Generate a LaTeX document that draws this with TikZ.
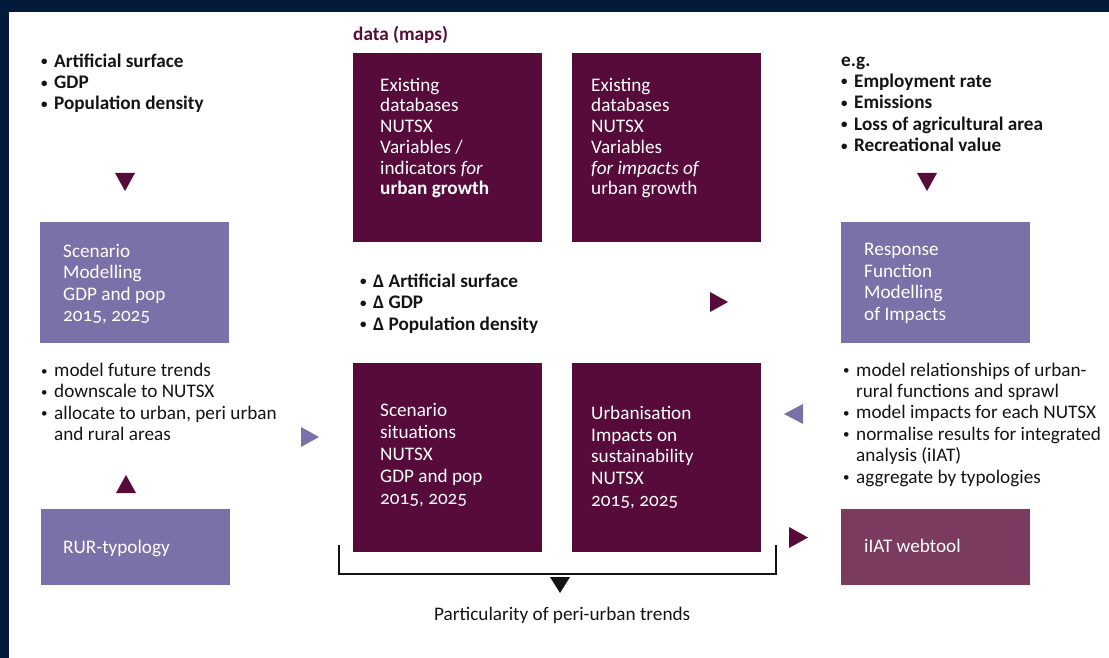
\documentclass[tikz,border=0pt]{standalone}
\usepackage{fontspec}
\setmainfont{Carlito}[Numbers=OldStyle]
\usepackage{tikz}
\usetikzlibrary{positioning}
\definecolor{wine}{HTML}{570B3B}
\definecolor{lavender}{HTML}{7B71A9}
\definecolor{rosewine}{HTML}{7A3B5E}
\definecolor{navy}{HTML}{031A3B}
\definecolor{ink}{HTML}{141414}
\newcommand{\bx}{\fontsize{19.2}{21.4}\selectfont}
\newcommand{\itm}{\makebox[13pt][l]{\raisebox{1.5pt}{\fontsize{13}{13}\selectfont\textbullet}}}
\newcommand{\hng}{\hspace*{13pt}}
\tikzset{
  databox/.style={fill=wine, minimum width=189pt, minimum height=189pt, inner sep=0pt},
  modbox/.style={fill=lavender, minimum width=189pt, minimum height=121pt, inner sep=0pt},
  smallbox/.style={minimum width=189pt, minimum height=76pt, inner sep=0pt},
  boxtext/.style={anchor=base west, align=left, inner sep=0pt, text=white, font=\bx},
  listtext/.style={anchor=base west, align=left, inner sep=0pt, text=ink, font=\bx},
}
\begin{document}
\begin{tikzpicture}[x=1pt,y=-1pt]
      \useasboundingbox (0,0) rectangle (1109,658);
      % frame
      \fill[navy] (0,0) rectangle (1109,12);
      \fill[navy] (0,0) rectangle (9,658);
      % data boxes (texts placed at the baseline of their last line)
      \node[databox] (exist1) at (447.5,147.5) {};
      \node[databox] (exist2) at (666,147.5) {};
      \node[databox] (scensit) at (447.5,457.5) {};
      \node[databox] (urbimp) at (666,457.5) {};
      \node[listtext, text=wine, font=\bx\bfseries] (data) at (353,40.7) {data (maps)};
      \node[boxtext, font=\fontsize{19.2}{20.8}\selectfont] (t1) at (380,195) {Existing\\databases\\NUTSX\\Variables /\\indicators \textit{for}\\\textbf{urban growth}};
      \node[boxtext, font=\fontsize{19.2}{20.8}\selectfont] (t2) at (591,195) {Existing\\databases\\NUTSX\\Variables\\\textit{for impacts of}\\urban growth};
      \node[boxtext, font=\fontsize{19.2}{21.8}\selectfont] (t3) at (380,504) {Scenario\\situations\\NUTSX\\GDP and pop\\2015, 2025};
      \node[boxtext, font=\fontsize{19.2}{21.8}\selectfont] (t4) at (591,506.5) {Urbanisation\\Impacts on\\sustainability\\NUTSX\\2015, 2025};
      % modelling boxes
      \node[modbox] (scenmod) at (134,282.5) {};
      \node[boxtext] (t5) at (63,321.5) {Scenario\\Modelling\\GDP and pop\\2015, 2025};
      \node[modbox] (respfun) at (935.5,282.5) {};
      \node[boxtext] (t6) at (864,320) {Response\\Function\\Modelling\\of Impacts};
      \node[smallbox, fill=lavender] (rur) at (135.5,547) {};
      \node[boxtext] (t7) at (63,553) {RUR-typology};
      \node[smallbox, fill=rosewine] (iiat) at (935.5,547) {};
      \node[boxtext] (t8) at (864,552.5) {iIAT webtool};
      % lists
      \node[listtext, font=\bx\bfseries] (in1) at (41,110) {\itm Artificial surface\\\itm GDP\\\itm Population density};
      \node[listtext, font=\bx\bfseries] (in2) at (841,151.7) {e.g.\\\itm Employment rate\\\itm Emissions\\\itm Loss of agricultural area\\\itm Recreational value};
      \node[listtext, font=\bx\bfseries] (delta) at (360,330) {\itm Δ Artificial surface\\\itm Δ GDP\\\itm Δ Population density};
      \node[listtext] (steps1) at (41,440.7) {\itm model future trends\\\itm downscale to NUTSX\\\itm allocate to urban, peri urban\\\hng and rural areas};
      \node[listtext] (steps2) at (843,483) {\itm model relationships of urban-\\\hng rural functions and sprawl\\\itm model impacts for each NUTSX\\\itm normalise results for integrated\\\hng analysis (iIAT)\\\itm aggregate by typologies};
      \node[listtext] (peri) at (434,620) {Particularity of peri-urban trends};
      % bracket
      \draw[line width=2pt, ink] (339,545) -- (339,574) -- (776,574) -- (776,545);
      % triangles
      \fill[wine] (115,173) -- (135,173) -- (125,191) -- cycle;
      \fill[wine] (917,173) -- (937,173) -- (927,191) -- cycle;
      \fill[wine] (116,493) -- (136,493) -- (126,475) -- cycle;
      \fill[lavender] (301,427) -- (301,447) -- (319,437) -- cycle;
      \fill[wine] (710,292) -- (710,312) -- (728,302) -- cycle;
      \fill[lavender] (803,404) -- (803,424) -- (784,414) -- cycle;
      \fill[wine] (789,527) -- (789,548) -- (808,537.5) -- cycle;
      \fill[ink] (550,577) -- (570,577) -- (560,593) -- cycle;
\end{tikzpicture}
\end{document}
